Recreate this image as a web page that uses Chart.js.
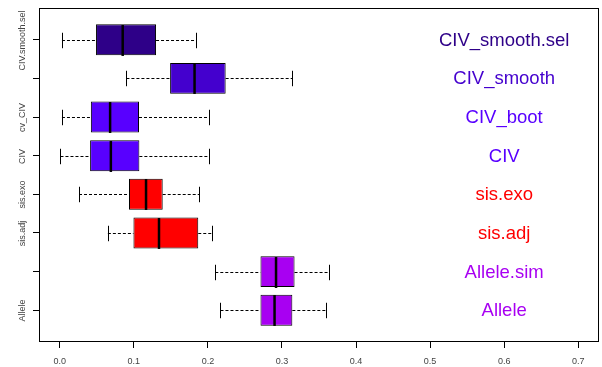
<!DOCTYPE html>
<html>
<head>
<meta charset="utf-8">
<script src="https://cdn.jsdelivr.net/npm/chart.js@4/dist/chart.umd.min.js"></script>
<style>
  html, body { margin: 0; padding: 0; background: #ffffff; }
  canvas { display: block; }
</style>
</head>
<body>
<canvas id="chart" width="602" height="367"></canvas>
<script>
// Methods, listed bottom to top
const categories = ["Allele", "Allele.sim", "sis.adj", "sis.exo", "CIV", "CIV_boot", "CIV_smooth", "CIV_smooth.sel"];
// Labels written beside the y-axis ticks (blank where they would collide)
const yTickLabels = ["Allele", "", "sis.adj", "sis.exo", "CIV", "cv_CIV", "", "CIV.smooth.sel"];
// Five-number summaries for each method
const whiskerLow  = [0.217, 0.210, 0.065, 0.026, 0.001, 0.003, 0.090, 0.003];
const lowerQuart  = [0.271, 0.271, 0.0995, 0.0935, 0.041, 0.042, 0.149, 0.049];
const medians     = [0.290, 0.292, 0.134, 0.1165, 0.069, 0.068, 0.182, 0.085];
const upperQuart  = [0.314, 0.317, 0.187, 0.139, 0.1075, 0.107, 0.224, 0.130];
const whiskerHigh = [0.359, 0.364, 0.205, 0.1885, 0.201, 0.202, 0.314, 0.184];
// x-axis ticks
const xTicks = [0.0, 0.1, 0.2, 0.3, 0.4, 0.5, 0.6, 0.7];
// Position of the method names along the x-axis
const nameX = 0.6;

// Fill colours per method
const boxColors = ["#A800F2", "#A800F2", "#FF0000", "#FF0000", "#5800FF", "#5800FF", "#4400CE", "#2E0088"];

const positions = categories.map((c, i) => i + 1);

// Whiskers, staples, medians, frame and text labels
const boxplotExtras = {
  id: "boxplotExtras",
  afterDatasetsDraw(chart) {
    const ctx = chart.ctx;
    const xs = chart.scales.x;
    const ys = chart.scales.y;
    const meta = chart.getDatasetMeta(0);
    const area = chart.chartArea;

    ctx.save();
    categories.forEach((name, i) => {
      const y = Math.round(ys.getPixelForValue(positions[i])) + 0.5;
      const bar = meta.data[i];
      const h = bar.height;
      const xLo = xs.getPixelForValue(whiskerLow[i]);
      const xQ1 = xs.getPixelForValue(lowerQuart[i]);
      const xMed = xs.getPixelForValue(medians[i]);
      const xQ3 = xs.getPixelForValue(upperQuart[i]);
      const xHi = xs.getPixelForValue(whiskerHigh[i]);

      // dashed whiskers
      ctx.strokeStyle = "#000";
      ctx.lineWidth = 1;
      ctx.setLineDash([3, 2]);
      ctx.beginPath();
      ctx.moveTo(xLo, y); ctx.lineTo(xQ1, y);
      ctx.moveTo(xQ3, y); ctx.lineTo(xHi, y);
      ctx.stroke();

      // staples
      ctx.setLineDash([]);
      ctx.beginPath();
      ctx.moveTo(Math.round(xLo) + 0.5, y - h / 4); ctx.lineTo(Math.round(xLo) + 0.5, y + h / 4);
      ctx.moveTo(Math.round(xHi) + 0.5, y - h / 4); ctx.lineTo(Math.round(xHi) + 0.5, y + h / 4);
      ctx.stroke();

      // median
      ctx.lineWidth = 2.5;
      ctx.beginPath();
      ctx.moveTo(xMed, y - h / 2); ctx.lineTo(xMed, y + h / 2);
      ctx.stroke();

      // method name
      ctx.fillStyle = boxColors[i];
      ctx.font = "18.5px 'Liberation Sans', Arial, sans-serif";
      ctx.textAlign = "center";
      ctx.textBaseline = "middle";
      ctx.fillText(name, xs.getPixelForValue(nameX), y);

      // rotated y tick label
      if (yTickLabels[i]) {
        ctx.save();
        ctx.translate(23, y);
        ctx.rotate(-Math.PI / 2);
        ctx.fillStyle = "#444";
        ctx.font = "9px 'Liberation Sans', Arial, sans-serif";
        ctx.textAlign = "center";
        ctx.textBaseline = "middle";
        ctx.fillText(yTickLabels[i], 0, 0);
        ctx.restore();
      }
    });

    // plot frame
    ctx.strokeStyle = "#000";
    ctx.lineWidth = 1;
    ctx.strokeRect(area.left + 0.5, area.top + 0.5, area.right - area.left - 1, area.bottom - area.top - 1);
    ctx.restore();
  }
};

new Chart(document.getElementById("chart"), {
  type: "bar",
  data: {
    datasets: [{
      data: categories.map((c, i) => ({ x: [lowerQuart[i], upperQuart[i]], y: positions[i] })),
      backgroundColor: boxColors,
      borderColor: "#000",
      borderWidth: 1,
      borderSkipped: false,
      categoryPercentage: 1,
      barPercentage: 0.8
    }]
  },
  options: {
    indexAxis: "y",
    responsive: false,
    animation: false,
    devicePixelRatio: 1,
    layout: { padding: { top: 8, right: 3, left: 0, bottom: 0 } },
    plugins: { legend: { display: false }, tooltip: { enabled: false } },
    scales: {
      x: {
        type: "linear",
        min: -0.028,
        max: 0.728,
        offset: false,
        afterBuildTicks: (scale) => { scale.ticks = xTicks.map(v => ({ value: v })); },
        afterFit: (scale) => { scale.height = 25; },
        grid: { offset: false, drawOnChartArea: false, drawTicks: true, tickLength: 6, color: "#000" },
        border: { display: false },
        ticks: {
          callback: (v) => Number(v).toFixed(1),
          color: "#444",
          font: { family: "'Liberation Sans', Arial, sans-serif", size: 9 },
          padding: 8,
          maxRotation: 0,
          autoSkip: false
        }
      },
      y: {
        type: "linear",
        min: 0.18,
        max: 8.82,
        offset: false,
        afterBuildTicks: (scale) => { scale.ticks = positions.map(v => ({ value: v })); },
        afterFit: (scale) => { scale.width = 39; },
        grid: { offset: false, drawOnChartArea: false, drawTicks: true, tickLength: 6, color: "#000" },
        border: { display: false },
        ticks: { display: false }
      }
    }
  },
  plugins: [boxplotExtras]
});
</script>
</body>
</html>
